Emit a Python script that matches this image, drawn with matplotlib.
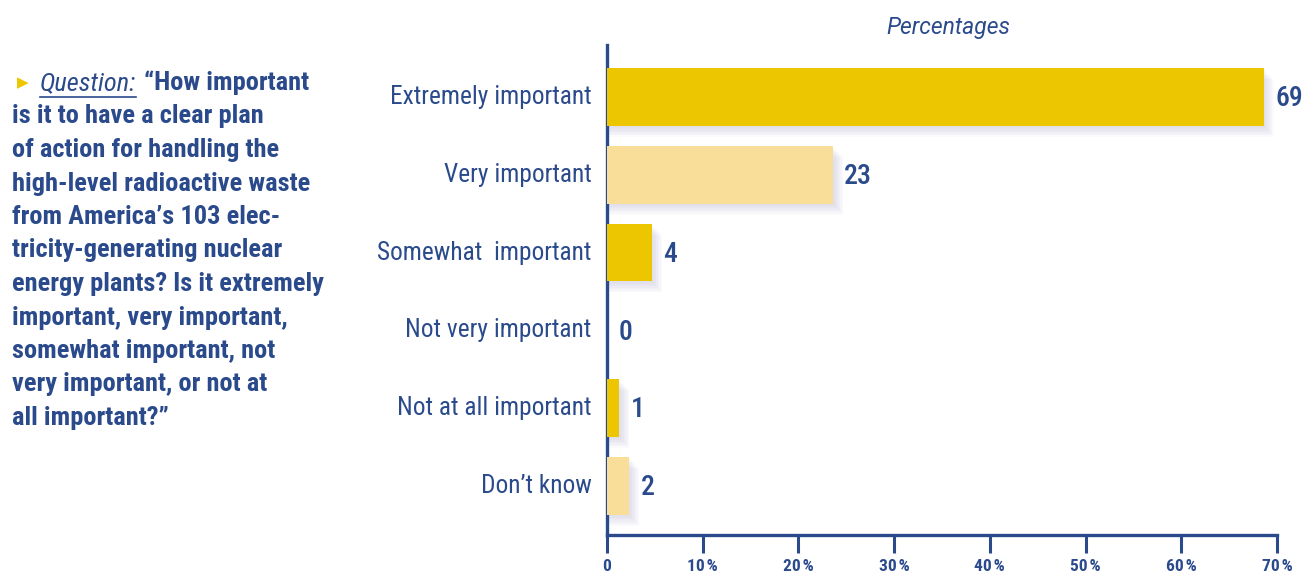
import matplotlib.pyplot as plt
from matplotlib.patches import Rectangle
from matplotlib.lines import Line2D

plt.rcParams['font.family'] = ['Roboto Condensed', 'Roboto', 'DejaVu Sans']

# data
categorii = ['Extremely important', 'Very important', 'Somewhat  important',
             'Not very important', 'Not at all important', 'Don\u2019t know']
valori = [68.6, 23.6, 4.7, 0, 1.3, 2.3]
etichete = ['69', '23', '4', '0', '1', '2']
ticks_x = [0, 10, 20, 30, 40, 50, 60, 70]
ticks_txt = ['0', '10\u200a%', '20\u200a%', '30\u200a%', '40\u200a%', '50\u200a%', '60\u200a%', '70\u200a%']
intrebare = [
    'is it to have a clear plan',
    'of action for handling the',
    'high-level radioactive waste',
    'from America\u2019s 103 elec-',
    'tricity-generating nuclear',
    'energy plants? Is it extremely',
    'important, very important,',
    'somewhat important, not',
    'very important, or not at',
    'all important?\u201d',
]

albastru = '#2a4a8c'
galben = '#ecc600'
galben_deschis = '#f8de98'
culori = [galben, galben_deschis] * 3

fig = plt.figure(figsize=(13.12, 5.76), dpi=100)
ax = fig.add_axes([607 / 1312, 1 - 535 / 576, 670 / 1312, 490 / 576])

h = 0.74
for i, (v, c) in enumerate(zip(valori, culori)):
    if v > 0:
        # umbra moale
        for k in range(1, 8):
            ax.add_patch(Rectangle((0, i - h / 2 + 0.02 * k), v + 0.15 * k, h,
                                   color='#8a86b8', alpha=0.04, lw=0, zorder=1))
        ax.barh(i, v, height=h, color=c, zorder=3)
    ax.text(v + 1.2, i + 0.02, etichete[i], va='center', ha='left',
            fontsize=20, color=albastru, fontweight='medium', zorder=4)

ax.set_yticks(range(len(categorii)))
ax.set_yticklabels(categorii, fontsize=18.3, color=albastru, va='center')
for lbl in ax.get_yticklabels():
    lbl.set_y(lbl.get_position()[1])
ax.tick_params(axis='y', length=0, pad=11)
ax.set_xticks(ticks_x)
ax.set_xticklabels(ticks_txt, fontsize=12.5, color=albastru, fontweight='bold')
ax.tick_params(axis='x', direction='out', length=13, width=2.2, color=albastru, pad=4)
ax.set_xlim(0, 70)
ax.set_ylim(5.63, -0.67)

for s in ['top', 'right']:
    ax.spines[s].set_visible(False)
for s in ['left', 'bottom']:
    ax.spines[s].set_color(albastru)
    ax.spines[s].set_linewidth(2.4)

ax.set_title('Percentages', fontsize=16.5, style='italic', color=albastru, pad=8,
             x=(948 - 607) / 670, family='Roboto')

# textul intrebarii
W, H = 1312, 576
fs = 19
pas = 33.5
fig.text(17 / W, 1 - 83 / H, '\u25b6', fontsize=11, color=galben, va='center', ha='left',
         family='DejaVu Sans')
t_q = fig.text(40 / W, 1 - 83 / H, 'Question:', fontsize=fs, style='italic', color=albastru,
               va='center', ha='left')
fig.canvas.draw()
bb = t_q.get_window_extent(fig.canvas.get_renderer())
fig.add_artist(Line2D([bb.x0 / W, bb.x1 / W], [1 - 97 / H, 1 - 97 / H], color=albastru, lw=1.2))
fig.text((bb.x1 + 8) / W, 1 - 83 / H, '\u201cHow important', fontsize=fs, fontweight='bold',
         color=albastru, va='center', ha='left')
for j, linie in enumerate(intrebare):
    fig.text(12 / W, 1 - (83 + pas * (j + 1)) / H, linie, fontsize=fs, fontweight='bold',
             color=albastru, va='center', ha='left')

fig.savefig('out.png', dpi=100)
